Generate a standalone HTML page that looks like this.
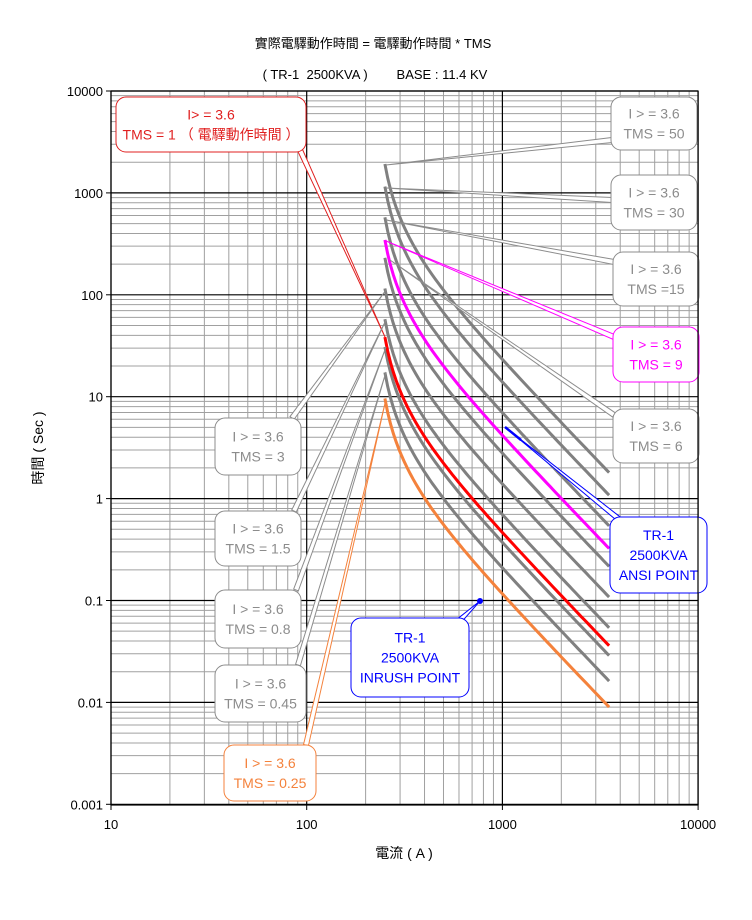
<!DOCTYPE html>
<html><head><meta charset="utf-8">
<style>
body{margin:0;background:#fff;}
svg{display:block;font-family:"Liberation Sans","Noto Sans CJK TC",sans-serif;}
</style></head>
<body>
<svg id="s" width="752" height="920" xmlns="http://www.w3.org/2000/svg"></svg>
<script>
const s=document.getElementById('s');
const X0=111,XD=195.7,Y0=91,YD=101.9;
const X=i=>X0+(Math.log10(i)-1)*XD;
const Y=t=>Y0+(4-Math.log10(t))*YD;
let h='';
h+='<rect x="0" y="0" width="752" height="920" fill="#fff"/>';
// grid
for(let d=1;d<4;d++)for(let k=2;k<10;k++){const x=X(k*Math.pow(10,d));h+=`<line x1="${x}" y1="91" x2="${x}" y2="805" stroke="#a0a0a0" stroke-width="1"/>`;}
for(let d=-3;d<4;d++)for(let k=2;k<10;k++){const y=Y(k*Math.pow(10,d));h+=`<line x1="111" y1="${y}" x2="698" y2="${y}" stroke="#a0a0a0" stroke-width="1"/>`;}
for(let d=1;d<=4;d++){const x=X(Math.pow(10,d));h+=`<line x1="${x}" y1="91" x2="${x}" y2="805" stroke="#000" stroke-width="1.2"/><line x1="${x}" y1="805" x2="${x}" y2="810" stroke="#000"/><text x="${x}" y="829" font-size="13" text-anchor="middle">${Math.pow(10,d)}</text>`;}
const yl=['0.001','0.01','0.1','1','10','100','1000','10000'];
for(let d=-3;d<=4;d++){const y=Y(Math.pow(10,d));h+=`<line x1="111" y1="${y}" x2="698" y2="${y}" stroke="#000" stroke-width="1.2"/><line x1="106" y1="${y}" x2="111" y2="${y}" stroke="#000"/><text x="103" y="${y+5}" font-size="13" text-anchor="end">${yl[d+3]}</text>`;}
// curves
const tms=[[50,'#808080'],[30,'#808080'],[15,'#808080'],[9,'#ff00ff'],[6,'#808080'],[3,'#808080'],[1.5,'#808080'],[0.8,'#808080'],[0.45,'#808080'],[0.25,'#f4823c'],[1,'#ff0000']];
for(const [m,c] of tms){let p=[];for(let i=0;i<=80;i++){const I=251*Math.pow(3508/251,i/80);const M=I/227;const t=m*8.56/(M*M-1);p.push(X(I).toFixed(1)+','+Y(t).toFixed(1));}
h+=`<polyline points="${p.join(' ')}" fill="none" stroke="${c}" stroke-width="3"/>`;}
// blue ansi segment & inrush point
h+=`<line x1="505" y1="427" x2="521" y2="440" stroke="#0000ff" stroke-width="2.5"/><circle cx="480" cy="601" r="3" fill="#0000ff"/>`;
// callouts
function co(x,y,w,hh,c,lines,px,py,bx,by,fs){
 const dx=px-bx,dy=py-by,L=Math.hypot(dx,dy),nx=-dy/L*2.5,ny=dx/L*2.5;
 let r=`<polygon points="${bx+nx},${by+ny} ${px},${py} ${bx-nx},${by-ny}" fill="#fff" stroke="${c}" stroke-width="1"/>`;
 r+=`<rect x="${x}" y="${y}" width="${w}" height="${hh}" rx="10" fill="#fff" stroke="${c}" stroke-width="1"/>`;
 const n=lines.length,lh=fs+6,st=y+hh/2-(n-1)*lh/2+fs*0.36;
 lines.forEach((l,i)=>r+=`<text x="${x+w/2}" y="${st+i*lh}" font-size="${fs}" fill="${c}" text-anchor="middle">${l}</text>`);
 return r;}
const G='#8c8c8c';
h+=co(116,97,190,55,'#e02020',['I&gt; = 3.6','TMS = 1 （ 電驛動作時間 ）'],385,337,300,150,14);
h+=co(611,97,86,53,G,['I &gt; = 3.6','TMS = 50'],386,165,612,140,14);
h+=co(611,175,86,55,G,['I &gt; = 3.6','TMS = 30'],386,188,612,200,14);
h+=co(613,252,86,54,G,['I &gt; = 3.6','TMS =15'],386,220,614,262,14);
h+=co(613,327,86,55,'#ff00ff',['I &gt; = 3.6','TMS = 9'],386,241,614,337,14);
h+=co(613,409,86,54,G,['I &gt; = 3.6','TMS = 6'],390,260,614,415,14);
h+=co(215,418,86,57,G,['I &gt; = 3.6','TMS = 3'],386,290,292,418,14);
h+=co(215,511,86,55,G,['I &gt; = 3.6','TMS = 1.5'],386,320,294,511,14);
h+=co(215,590,86,58,G,['I &gt; = 3.6','TMS = 0.8'],386,347,296,590,14);
h+=co(215,665,91,57,G,['I &gt; = 3.6','TMS = 0.45'],386,372,298,665,14);
h+=co(224,745,92,56,'#f4823c',['I &gt; = 3.6','TMS = 0.25'],386,399,306,745,14);
h+=co(610,517,97,76,'#0000ff',['TR-1','2500KVA','ANSI POINT'],506,428,620,520,14);
h+=co(351,618,118,79,'#0000ff',['TR-1','2500KVA','INRUSH POINT'],480,601,460,620,14);
// titles
h+=`<text x="373" y="48" font-size="13" text-anchor="middle">實際電驛動作時間 = 電驛動作時間 * TMS</text>`;
h+=`<text x="375" y="79" font-size="13" text-anchor="middle" xml:space="preserve">( TR-1  2500KVA )        BASE : 11.4 KV</text>`;
h+=`<text x="404" y="858" font-size="14" text-anchor="middle">電流 ( A )</text>`;
h+=`<text transform="translate(43,448) rotate(-90)" font-size="14" text-anchor="middle">時間 ( Sec )</text>`;
h+=`<rect x="111" y="91" width="587" height="714" fill="none" stroke="#000" stroke-width="1.2"/>`;
s.innerHTML=h;
</script>
</body></html>
